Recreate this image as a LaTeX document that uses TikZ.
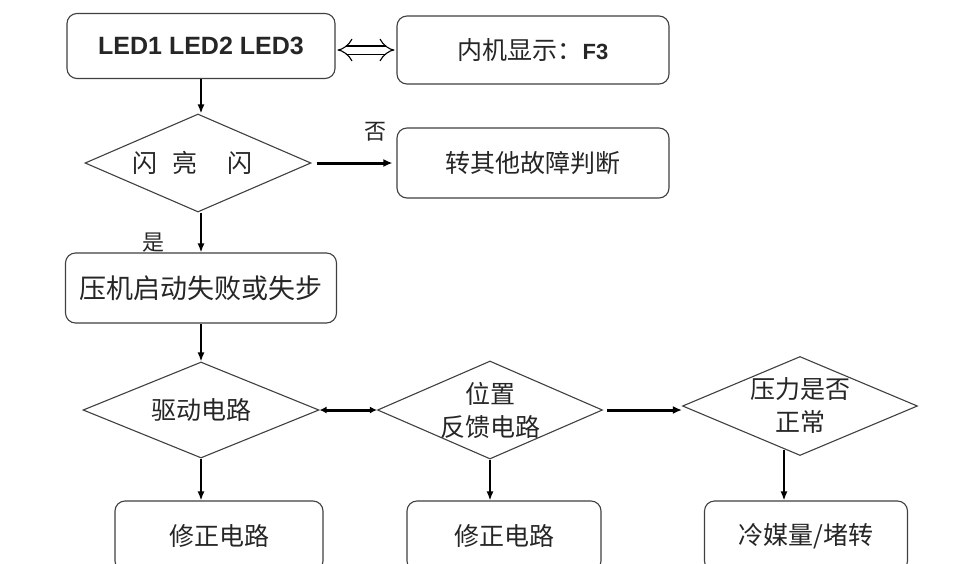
\documentclass[tikz,border=0pt]{standalone}
\usepackage{fontspec}
\setmainfont{Liberation Sans}
\newfontfamily\cjk{Noto Sans CJK SC}
\usetikzlibrary{shapes.geometric, arrows.meta, positioning, calc}

\begin{document}
\begin{tikzpicture}[x=1pt, y=-1pt,
    box/.style={draw=black!75, line width=1.1pt, rounded corners=10pt, text=black!85, font=\fontsize{25}{28}\selectfont\cjk},
    dia/.style={diamond, draw=black!75, line width=1.1pt, inner sep=0pt},
    txt/.style={align=center, text=black!85, font=\fontsize{25}{33}\selectfont\cjk},
    arr/.style={line width=1.6pt, -{Latex[length=9pt,width=7pt]}},
    bigarr/.style={line width=3pt, -{Latex[length=9pt,width=8pt]}},
    dbl/.style={double=white, double distance=7pt, line width=1.1pt, {Implies}-{Implies}, shorten <=2pt, shorten >=2pt},
    lbl/.style={text=black!85, font=\fontsize{22}{24}\selectfont\cjk}]

    \clip (0,0) rectangle (959,563);
    \fill[white] (0,0) rectangle (959,563);

    \node[box, minimum width=268pt, minimum height=65pt] (led) at (201,46) {\normalfont\fontsize{25}{28}\selectfont\bfseries LED1 LED2 LED3};
    \node[box, minimum width=272pt, minimum height=68pt] (disp) at (533,50) {内机显示：{\normalfont\bfseries\fontsize{22}{24}\selectfont F3}};
    \node[dia, minimum width=226pt, minimum height=98pt, label={[txt, xshift=-6pt]center:闪\hspace{0.6em}亮\hspace{1.2em}闪}] (d1) at (198,163) {};
    \node[box, minimum width=272pt, minimum height=70pt] (other) at (533,163) {转其他故障判断};
    \node[box, minimum width=271pt, minimum height=70pt, font=\fontsize{27}{30}\selectfont\cjk] (comp) at (201,288) {压机启动失败或失步};

    \node[dia, minimum width=236pt, minimum height=96pt, label={[txt]center:驱动电路}] (d2) at (201,410) {};
    \node[dia, minimum width=225pt, minimum height=98pt, label={[txt]center:{位置\\反馈电路}}] (d3) at (490,410) {};
    \node[dia, minimum width=235pt, minimum height=99pt, label={[txt]center:{压力是否\\正常}}] (d4) at (800,406) {};

    \node[box, minimum width=208pt, minimum height=70pt] (fix1) at (219,536) {修正电路};
    \node[box, minimum width=194pt, minimum height=70pt] (fix2) at (504,536) {修正电路};
    \node[box, minimum width=203pt, minimum height=70pt] (fix3) at (806,536) {冷媒量/堵转};

    \node[lbl] (no) at (375,132) {否};
    \node[lbl] (yes) at (153,243) {是};
    \coordinate (c4) at (784,450);

    \draw[dbl] (led.east |- disp.west) -- (disp.west);
    \draw[arr] (led.south) -- (led.south |- d1.north);
    \draw[bigarr, shorten <=5pt, shorten >=4pt] (d1.east) -- (other.west);
    \draw[arr] (led.south |- d1.south) -- (comp.north);
    \draw[arr] (comp.south) -- (d2.north);
    \draw[line width=3pt, {Latex[length=7pt,width=7pt]}-{Latex[length=7pt,width=7pt]}] (d2.east) -- (d3.west);
    \draw[bigarr, shorten <=4pt] (d3.east) -- (d3.east -| d4.west);
    \draw[arr] (d2.south) -- (d2.south |- fix1.north);
    \draw[arr] (d3.south) -- (d3.south |- fix2.north);
    \draw[arr] (c4) -- (c4 |- fix3.north);
\end{tikzpicture}
\end{document}
